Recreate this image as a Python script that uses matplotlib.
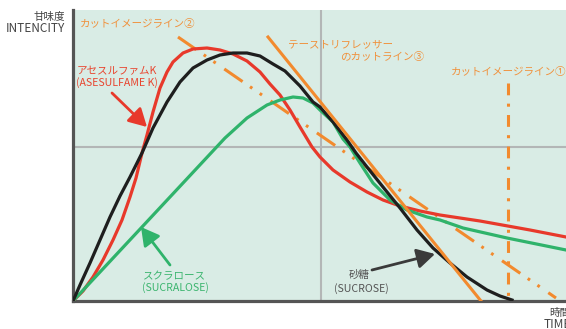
import matplotlib
matplotlib.use("Agg")
import matplotlib.pyplot as plt

plt.rcParams['font.family'] = ['Noto Sans CJK JP', 'DejaVu Sans']
plt.rcParams['lines.scale_dashes'] = False

# curves (time, intensity), arbitrary units
sucrose_t = [0, 7, 17, 27, 37, 47, 57, 69, 80, 94, 107, 120, 134, 147, 160,
             174, 187, 200, 212, 227, 240, 247, 260, 267, 274, 283, 294, 310,
             327, 344, 360, 377, 394, 414, 427, 439]
sucrose_v = [0, 16, 38, 61, 84, 105, 124, 148, 173, 199, 219, 233, 241, 246, 248,
             248, 245, 237, 230, 215, 199, 194, 179, 170, 161, 148, 134, 114,
             93, 71, 53, 38, 24, 11, 5, 1]

acek_t = [0, 10, 20, 30, 40, 49, 57, 63, 69, 74, 80, 87, 94, 100, 110, 120,
          134, 147, 160, 174, 187, 197, 207, 217, 227, 239, 247, 260, 277, 294,
          310, 327, 347, 367, 407, 457, 493]
acek_v = [0, 10, 24, 41, 61, 81, 104, 123, 148, 166, 189, 213, 229, 239, 248, 252,
          253, 251, 247, 240, 229, 217, 206, 191, 174, 154, 144, 131, 119, 109,
          101, 95, 90, 86, 80, 71, 64]

sucralose_t = [0, 152, 174, 194, 207, 220, 230, 240, 247, 260, 270, 277, 287,
               300, 317, 334, 354, 367, 390, 434, 493]
sucralose_v = [0, 163, 183, 196, 201, 204, 203, 198, 191, 179, 162, 154, 138,
               118, 101, 91, 84, 81, 73, 63, 51]

# cut lines
line3_t = [195, 408]
line3_v = [264, 0]
line2_t = [105, 483]
line2_v = [264, 3]
line1_t = [435, 435]
line1_v = [218, 0]

grid_t = 248
grid_v = 154

W, H = 566, 329
fig = plt.figure(figsize=(W / 100, H / 100), dpi=100)
ax = fig.add_axes([73 / W, (H - 301) / H, (W - 73) / W, 291 / H])
ax.set_facecolor('#d9ece5')
ax.set_xlim(0, 493)
ax.set_ylim(0, 291)

ax.axvline(grid_t, color='#b3b6b6', lw=1.5, zorder=1)
ax.axhline(grid_v, color='#b3b6b6', lw=1.5, zorder=1)

orange = '#f28a2e'
ax.plot(line2_t, line2_v, color=orange, lw=2.2, dashes=(16, 6.5, 2, 6.5, 2, 7.5),
        dash_capstyle='butt', zorder=2)
ax.plot(line1_t, line1_v, color=orange, lw=2.2, dashes=(8.5, 6, 2.2, 6),
        dash_capstyle='butt', zorder=2)

ax.plot(acek_t, acek_v, color='#e8392b', lw=2.3, zorder=3, solid_joinstyle='round')
ax.plot(sucralose_t, sucralose_v, color='#2fb36b', lw=2.3, zorder=3,
        solid_joinstyle='round')
ax.plot(sucrose_t, sucrose_v, color='#1e1e1e', lw=2.3, zorder=4,
        solid_joinstyle='round')
ax.plot(line3_t, line3_v, color=orange, lw=2.2, zorder=5)

for s in ['top', 'right']:
    ax.spines[s].set_visible(False)
for s in ['left', 'bottom']:
    ax.spines[s].set_color('#555555')
    ax.spines[s].set_linewidth(2.3)
ax.set_xticks([])
ax.set_yticks([])


def P(x, y):
    return (x, H - y)


def ftext(x, y, s, color, ha='left', size=7.6):
    fig.text(x / W, 1 - y / H, s, color=color, ha=ha, va='center', fontsize=size)


gray = '#444444'
ftext(65, 17, '甘味度', gray, ha='right')
ftext(65, 29, 'INTENCITY', gray, ha='right', size=8.5)
ftext(549, 313, '時間', gray)
ftext(544, 324, 'TIME', gray, size=8.5)

otext = '#f0913c'
ftext(80, 24, 'カットイメージライン②', otext)
ftext(288, 44, 'テーストリフレッサー', otext)
ftext(340, 57, 'のカットライン③', otext)
ftext(451, 72, 'カットイメージライン①', otext)

ftext(77, 71, 'アセスルファムK', '#e8452f')
ftext(76, 83, '(ASESULFAME K)', '#e8452f')
ftext(174, 276, 'スクラロース', '#3cb56f', ha='center')
ftext(175, 288, '(SUCRALOSE)', '#3cb56f', ha='center')
ftext(359, 275, '砂糖', '#555555', ha='center')
ftext(361, 289, '(SUCROSE)', '#555555', ha='center')

astyle = '-|>,head_length=0.9,head_width=0.5'
for tail, tip, c in [((112, 93), (147, 127), '#e8392b'),
                     ((170, 265), (141, 227), '#2fb36b'),
                     ((372, 270), (435, 254), '#3a3a3a')]:
    ax.annotate('', xy=P(*tip), xycoords='figure pixels',
                xytext=P(*tail), textcoords='figure pixels',
                arrowprops=dict(arrowstyle=astyle, color=c, lw=2,
                                mutation_scale=12, shrinkA=0, shrinkB=0))

fig.savefig('out.png', dpi=100, facecolor='white')
